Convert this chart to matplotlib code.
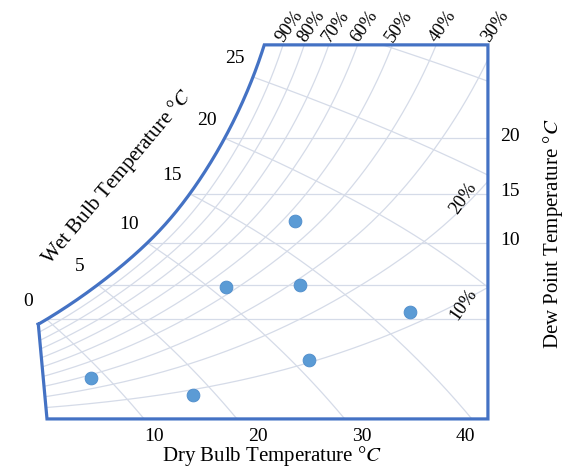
"""Psychrometric chart with a handful of measured states."""

import numpy as np
import matplotlib

matplotlib.use("Agg")
import matplotlib.pyplot as plt
from matplotlib.patches import Polygon

P_ATM = 101.325  # kPa

# chart frame
w_top = 23.3          # g/kg at the top edge
x_right = 42.6        # dry bulb scale value at the right edge
t_sat_start = -0.8    # where the saturation curve meets the left edge

wb_lines = [0, 5, 10, 15, 20, 25, 30]
wb_ticks = [0, 5, 10, 15, 20, 25]
rh_lines = [10, 20, 30, 40, 50, 60, 70, 80, 90]
dp_lines = [0, 5, 10, 15, 20]
dp_ticks = [10, 15, 20]
db_ticks = [10, 20, 30, 40]

# measured states
dry_bulb = [4.3, 14.1, 17.4, 24.5, 24.6, 25.3, 35.1]   # degC
humidity = [1.4, 0.8, 5.3, 5.4, 8.9, 2.1, 4.1]        # g/kg

plt.rcParams["font.family"] = ["Liberation Serif", "DejaVu Serif"]
plt.rcParams["mathtext.fontset"] = "stix"


def p_sat(t):
    return 0.61094 * np.exp(17.625 * t / (t + 243.04))


def w_from_pv(pv):
    return 622.0 * pv / (P_ATM - pv)


def t_from_ps(ps):
    a = np.log(ps / 0.61094)
    return 243.04 * a / (17.625 - a)


def dew_point(w):
    return t_from_ps(w * P_ATM / (622.0 + w))


def wet_bulb_w(t, twb):
    ws = w_from_pv(p_sat(twb)) / 1000.0
    num = (2501 - 2.326 * twb) * ws - 1.006 * (t - twb)
    return 1000.0 * num / (2501 + 1.86 * t - 4.186 * twb)


def _soft(w):
    d = w - 8.0
    return 0.5 * (d + np.sqrt(d * d + 4.0))


def chart_x(t, w):
    # dry bulb lines lean left as humidity rises
    return t - 0.425 * (_soft(w) - _soft(0.0))


fig = plt.figure(figsize=(5.64, 4.68), dpi=100)
ax = fig.add_axes([0, 0, 1, 1])
ax.set_yscale("function", functions=(lambda w: np.log(w + 10.0), lambda v: np.exp(v) - 10.0))
ax.set_xlim(-4.54, 49.95)
ax.set_ylim(-1.46, 28.47)
ax.set_axis_off()

# outline
t_top = dew_point(w_top)
ts = np.linspace(t_sat_start, t_top, 300)
ws = w_from_pv(p_sat(ts))
bx = np.concatenate([chart_x(ts, ws), [x_right, x_right, 0.0, chart_x(ts[0], ws[0])]])
by = np.concatenate([ws, [w_top, 0.0, 0.0, ws[0]]])
clip = Polygon(np.column_stack([bx, by]), closed=True, transform=ax.transData,
               facecolor="none", edgecolor="none")
ax.add_patch(clip)

grid_kw = dict(color="#D5DBE8", lw=0.9, zorder=1)

t_grid = np.linspace(-5, 75, 800)
for rh in rh_lines:
    w = w_from_pv(rh / 100 * p_sat(t_grid))
    line, = ax.plot(chart_x(t_grid, w), w, **grid_kw)
    line.set_clip_path(clip)

for twb in wb_lines:
    t = np.linspace(twb - 2, twb + 80, 400)
    w = wet_bulb_w(t, twb)
    keep = w > -1
    line, = ax.plot(chart_x(t[keep], w[keep]), w[keep], **grid_kw)
    line.set_clip_path(clip)

for dp in dp_lines:
    w = w_from_pv(p_sat(dp))
    line, = ax.plot([-5, 50], [w, w], **grid_kw)
    line.set_clip_path(clip)

ax.plot(bx, by, color="#4472C4", lw=2.3, zorder=3, solid_joinstyle="miter")

ax.scatter(chart_x(np.array(dry_bulb), np.array(humidity)), humidity, s=85,
           color="#5B9BD5", edgecolor="#4E8CCB", lw=0.6, zorder=4)

# wet bulb scale along the saturation curve
for twb in wb_ticks:
    w = w_from_pv(p_sat(twb))
    ax.annotate(str(twb), (chart_x(twb, w), w), xytext=(-18, 18), textcoords="offset pixels",
                ha="center", va="center", fontsize=14)

# relative humidity labels
for rh in rh_lines:
    if rh >= 30:
        t_hit = t_from_ps(w_top * P_ATM / (622.0 + w_top) / (rh / 100))
        x_hit = min(chart_x(t_hit, w_top), x_right)
        ax.annotate(f"{rh}%", (x_hit, w_top), xytext=(-10, 0), textcoords="offset pixels",
                    ha="left", va="bottom", rotation=55, fontsize=13.5)
    else:
        tf = np.linspace(0, 80, 3000)
        wf = w_from_pv(rh / 100 * p_sat(tf))
        w_hit = np.interp(x_right, chart_x(tf, wf), wf)
        ax.annotate(f"{rh}%", (x_right, w_hit), xytext=(-8, 2), textcoords="offset pixels",
                    ha="right", va="top", rotation=55, fontsize=13.5)

# dew point scale
for dp in dp_ticks:
    w = w_from_pv(p_sat(dp))
    ax.annotate(str(dp), (x_right, w), xytext=(12, 2), textcoords="offset pixels",
                ha="left", va="center", fontsize=14)

# dry bulb scale
for db in db_ticks:
    ax.annotate(str(db), (db, 0.0), xytext=(4, -18), textcoords="offset pixels",
                ha="center", va="center", fontsize=14)

fig.text(272 / 564, 7 / 468, "Dry Bulb Temperature °$C$", ha="center", va="baseline",
         fontsize=15)
fig.text(553 / 564, 0.5, "Dew Point Temperature °$C$", ha="center", va="center",
         rotation=90, fontsize=15)
fig.text(117 / 564, 1 - 177 / 468, "Wet Bulb Temperature °$C$", ha="center", va="center",
         rotation=50, rotation_mode="anchor", fontsize=15)

fig.savefig("out.png", dpi=100)
